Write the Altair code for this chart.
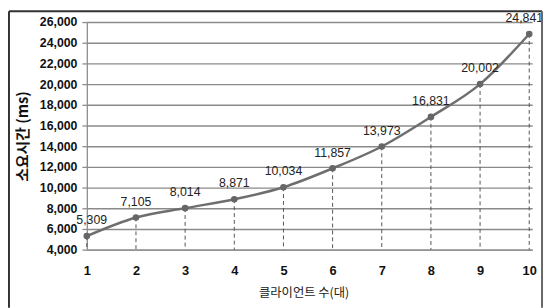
import altair as alt
import pandas as pd

clients = [1, 2, 3, 4, 5, 6, 7, 8, 9, 10]
times_ms = [5309, 7105, 8014, 8871, 10034, 11857, 13973, 16831, 20002, 24841]
y_ticks = [4000, 6000, 8000, 10000, 12000, 14000, 16000, 18000, 20000, 22000, 24000, 26000]
x_title = "클라이언트 수(대)"
y_title = "소요시간 (ms)"

df = pd.DataFrame({"clients": clients, "ms": times_ms})
df["label"] = [f"{v:,}" for v in times_ms]
df["base"] = 4000

KR = "Noto Sans CJK KR"
NUM = "Liberation Sans"

W, H = 452, 231

xs = alt.Scale(domain=[1, 10.06], nice=False, zero=False)
ys = alt.Scale(domain=[4000, 26000], nice=False, zero=False)

base = alt.Chart(df)

x_enc = alt.X(
    "clients:Q", scale=xs,
    axis=alt.Axis(
        values=clients, format="d", grid=False, ticks=False,
        domainColor="#8c8c8c", domainWidth=1.3,
        labelFont=NUM, labelFontSize=13, labelFontWeight="bold", labelColor="#111",
        labelPadding=15, labelFlush=False,
        title=x_title, titleFont=KR, titleFontSize=12.5, titleFontWeight="normal",
        titleColor="#222", titleX=220, titleY=44, titleBaseline="middle", titleAlign="center",
    ),
)
y_enc = alt.Y(
    "ms:Q", scale=ys,
    axis=alt.Axis(
        values=y_ticks, format=",.0f", grid=True, gridColor="#8a8a8a", gridWidth=1.4,
        gridOpacity=1,
        ticks=True, tickSize=5, tickColor="#8c8c8c", tickWidth=1.3,
        domainColor="#8c8c8c", domainWidth=1.3,
        labelFont=NUM, labelFontSize=12.5, labelFontWeight="bold", labelColor="#111",
        labelPadding=5,
        title=y_title, titleFont=KR, titleFontSize=15, titleFontWeight="bold",
        titleColor="#111", titleAngle=-90, titleX=-65, titleY=115.5,
        titleBaseline="middle", titleAlign="center",
    ),
)

line = base.mark_line(color="#6e6e6e", strokeWidth=2.5, interpolate="monotone").encode(
    x=x_enc, y=y_enc
)

drops = base.mark_rule(color="#555", strokeWidth=1, strokeDash=[4, 3]).encode(
    x=x_enc, y=y_enc, y2="base:Q",
)

pts = base.mark_circle(size=45, color="#666", opacity=1).encode(x=x_enc, y=y_enc)

def lbl(filt, dx):
    return base.transform_filter(filt).mark_text(
        dy=-16, dx=dx, font=NUM, fontSize=12.5, color="#222", baseline="middle"
    ).encode(x=x_enc, y=y_enc, text="label:N")

labels_mid = lbl("datum.clients > 1 && datum.clients < 10", 0)
labels_first = lbl("datum.clients == 1", 5)
labels_last = lbl("datum.clients == 10", -5)

one = alt.Data(values=[{"a": 1}])
border_left = alt.Chart(one).mark_rule(color="#333", strokeWidth=2).encode(
    x=alt.value(-79), y=alt.value(-11), y2=alt.value(290)
)
border_top = alt.Chart(one).mark_rule(color="#333", strokeWidth=2).encode(
    x=alt.value(-79), x2=alt.value(462), y=alt.value(-11)
)
border_right = alt.Chart(one).mark_rule(color="#666", strokeWidth=2).encode(
    x=alt.value(462), y=alt.value(-11), y2=alt.value(290)
)

chart = alt.layer(
    line, drops, pts, labels_mid, labels_first, labels_last,
    border_left, border_top, border_right,
).properties(width=W, height=H, padding=0, background="white").configure_view(stroke=None)

chart.save("out.html", embed_options={"renderer": "svg", "actions": False})
